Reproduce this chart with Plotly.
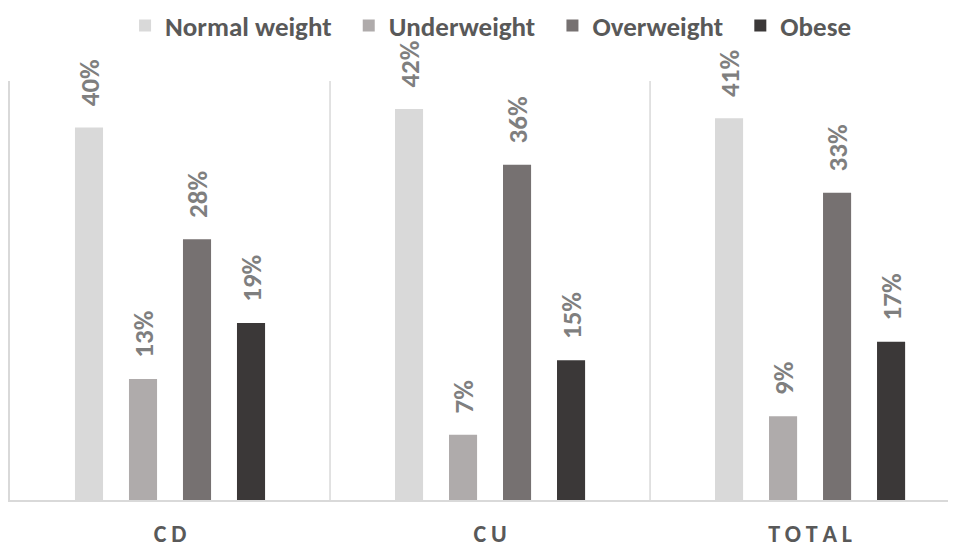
import plotly.graph_objects as go

categories = ["CD", "CU", "TOTAL"]
tick_text = ["C\u2009D", "C\u2009U", "T\u2009O\u2009T\u2009A\u2009L"]
series_names = ["Normal weight", "Underweight", "Overweight", "Obese"]
normal_weight = [40, 42, 41]
underweight = [13, 7, 9]
overweight = [28, 36, 33]
obese = [19, 15, 17]
colors = ["#D9D9D9", "#AFABAB", "#767171", "#3B3838"]

FONT = "Carlito, 'Liberation Sans Narrow', Lato, sans-serif"

fig = go.Figure()
series = [normal_weight, underweight, overweight, obese]
for i, (name, vals, col) in enumerate(zip(series_names, series, colors)):
    pad = "\u00a0\u00a0" if i < len(series_names) - 1 else ""
    fig.add_trace(go.Bar(
        name=name + pad, x=categories, y=vals,
        marker=dict(color=col, line=dict(width=0)),
        text=["\u00a0\u00a0\u00a0" + f"{v}%" for v in vals],
        textposition="outside", textangle=-90, constraintext="none",
        textfont=dict(family=FONT, size=27, color="#7F7F7F", weight="bold"),
        cliponaxis=False,
    ))

for xb in [0.5, 1.5, 2.5]:
    fig.add_shape(type="line", xref="x", yref="paper", x0=xb, x1=xb, y0=0, y1=1,
                  line=dict(color="#D9D9D9", width=1.5), layer="below")

# page body has an 8px margin; figure drawn 8px in from the window's top-left
fig.update_layout(
    width=948, height=538,
    margin=dict(l=2, r=0, t=73, b=46, autoexpand=False),
    paper_bgcolor="white", plot_bgcolor="white",
    barmode="group", bargap=0.325, bargroupgap=0.48,
    font=dict(family=FONT),
    legend=dict(orientation="h", xref="paper", x=0.508, xanchor="center",
                yref="container", y=0.9665, yanchor="middle",
                bgcolor="rgba(0,0,0,0)",
                font=dict(family=FONT, size=27, color="#595959", weight="bold"),
                traceorder="normal"),
    xaxis=dict(range=[-0.5, 2.456], tickvals=categories, ticktext=tick_text,
               showline=True, linecolor="#D9D9D9", linewidth=2, ticks="",
               tickfont=dict(family=FONT, size=24, color="#595959", weight="bold"),
               ticklabelstandoff=11, showgrid=False, automargin=False),
    yaxis=dict(range=[0, 45], showticklabels=False, showgrid=False, zeroline=False,
               showline=True, linecolor="#D9D9D9", linewidth=1.5, ticks="",
               automargin=False),
)

fig.write_html("out.html")
